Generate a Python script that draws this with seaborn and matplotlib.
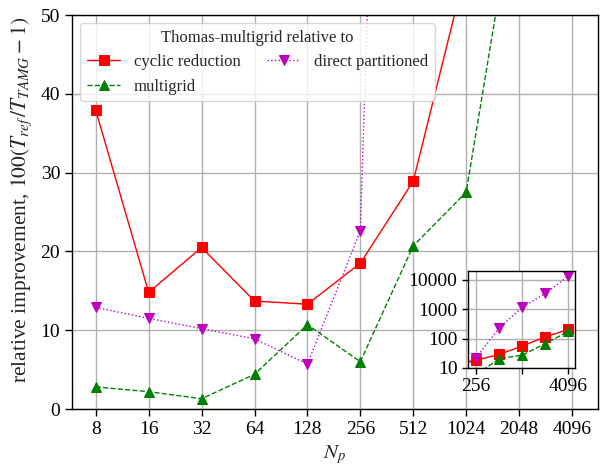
import matplotlib
matplotlib.use("Agg")
import matplotlib.pyplot as plt
import seaborn as sns
import pandas as pd
import numpy as np

# ---- data ----
n_procs = [8, 16, 32, 64, 128, 256, 512, 1024, 2048, 4096]
x_tick_labels = ["8", "16", "32", "64", "128", "256", "512", "1024", "2048", "4096"]
cyclic_reduction = [37.9, 14.8, 20.5, 13.7, 13.3, 18.5, 28.9, 56.0, 115.0, 205.0]
multigrid = [2.8, 2.2, 1.3, 4.4, 10.7, 6.0, 20.7, 27.5, 68.0, 175.0]
direct_partitioned = [12.9, 11.5, 10.2, 8.9, 5.7, 22.6, 230.0, 1170.0, 3450.0, 13500.0]
inset_xticks = [256, 1024, 4096]
inset_xtick_labels = ["256", "", "4096"]
inset_yticks = [10, 100, 1000, 10000]
inset_ytick_labels = ["10", "100", "1000", "10000"]

series_names = ["cyclic reduction", "multigrid", "direct partitioned"]
series_values = [cyclic_reduction, multigrid, direct_partitioned]
colors = ["#ff0000", "#008000", "#bf00bf"]
markers = ["s", "^", "v"]
linestyles = ["-", "--", ":"]

df = pd.DataFrame({
    "Np": n_procs * 3,
    "value": cyclic_reduction + multigrid + direct_partitioned,
    "series": sum([[s] * len(n_procs) for s in series_names], []),
})

sns.set_style("ticks")
plt.rcParams["font.family"] = ["Liberation Serif", "DejaVu Serif"]
plt.rcParams["mathtext.fontset"] = "stix"
plt.rcParams["axes.edgecolor"] = "black"
plt.rcParams["xtick.color"] = "black"
plt.rcParams["ytick.color"] = "black"

fig = plt.figure(figsize=(6.13, 4.66), dpi=100)
ax = fig.add_axes([72 / 613, 57 / 466, 526 / 613, 394 / 466])


def draw(axis, ms):
    for name, c, m, ls in zip(series_names, colors, markers, linestyles):
        sub = df[df["series"] == name]
        sns.lineplot(data=sub, x="Np", y="value", ax=axis, color=c, marker=m,
                     linestyle=ls, markersize=ms, markeredgecolor=c,
                     linewidth=1.0, label=name, legend=False)


draw(ax, 7)
ax.set_xscale("log", base=2)
ax.set_xlim(5.86, 5760)
ax.set_ylim(0, 50)
ax.set_xticks(n_procs)
ax.set_xticklabels(x_tick_labels)
ax.minorticks_off()
ax.set_yticks([0, 10, 20, 30, 40, 50])
ax.tick_params(labelsize=14, direction="out", length=5, width=1)
ax.grid(True, color="#b0b0b0", linewidth=1.0)
ax.set_xlabel("$N_p$", fontsize=15)
ax.set_ylabel(r"relative improvement, $100(T_{ref}\,/T_{TAMG}-1)$", fontsize=15.5)
ax.yaxis.set_label_coords(-0.072, 0.53)
for s in ax.spines.values():
    s.set_linewidth(1.0)

leg = ax.legend(title="Thomas-multigrid relative to", ncol=2, loc="upper left",
                fontsize=12, title_fontsize=12, frameon=True, fancybox=True,
                framealpha=0.8, edgecolor="#cccccc", handlelength=2.0,
                columnspacing=1.6, borderaxespad=0.5)

# ---- inset ----
ins = fig.add_axes([468 / 613, 98 / 466, 107 / 613, 97 / 466])
draw(ins, 7)
ins.set_xscale("log", base=2)
ins.set_yscale("log")
ins.set_xlim(200, 5000)
ins.set_ylim(10, 20000)
ins.minorticks_off()
ins.set_xticks(inset_xticks)
ins.set_xticklabels(inset_xtick_labels)
ins.set_yticks(inset_yticks)
ins.set_yticklabels(inset_ytick_labels)
ins.tick_params(labelsize=14, direction="out", length=4, width=1)
ins.grid(True, color="#b0b0b0", linewidth=1.0)
ins.set_xlabel("")
ins.set_ylabel("")
ins.set_facecolor("white")
for s in ins.spines.values():
    s.set_linewidth(1.0)

fig.savefig("out.png", dpi=100)
